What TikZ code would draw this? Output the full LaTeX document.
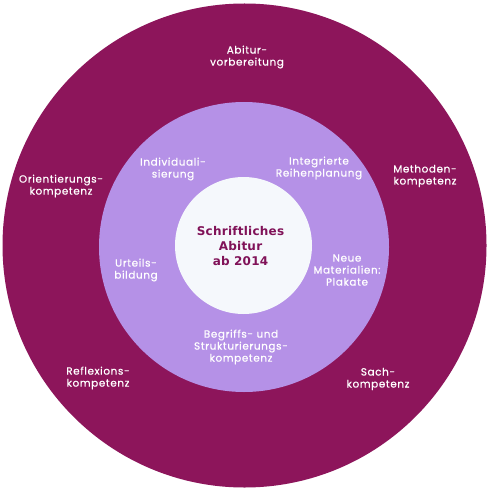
\documentclass[tikz,border=0pt]{standalone}
\usepackage{fontspec}
\setmainfont{Poppins}
\newfontfamily\lblfont[LetterSpace=6,FakeBold=0.6]{Poppins}
\newfontfamily\ctrfont[LetterSpace=2]{DejaVu Sans}
\definecolor{outerc}{RGB}{141,21,91}
\definecolor{midc}{RGB}{181,145,231}
\definecolor{innerc}{RGB}{245,248,252}
\definecolor{ctrtext}{RGB}{128,18,88}
\begin{document}
\begin{tikzpicture}[x=1pt,y=-1pt,
  lbl/.style={text=white,align=center,font=\lblfont\fontsize{10.4}{12}\selectfont,inner sep=0pt},
  ctr/.style={text=ctrtext,align=center,font=\ctrfont\bfseries\fontsize{12}{15}\selectfont,inner sep=0pt}]
\useasboundingbox (0,0) rectangle (489,492);
\fill[white] (0,0) rectangle (489,492);
\node[circle,fill=outerc,minimum size=484pt,inner sep=0pt] (outer) at (244.5,245.5) {};
\node[circle,fill=midc,minimum size=290pt,inner sep=0pt] (mid) at (244,247) {};
\node[circle,fill=innerc,minimum size=137pt,inner sep=0pt] (inner) at (243.5,245.5) {};
\node[ctr] (center) at (240.5,246) {Schriftliches\\Abitur\\ab 2014};
\node[lbl] (abitur) at (247,57) {Abitur-\\vorbereitung};
\node[lbl] (orient) at (61,186) {Orientierungs-\\kompetenz};
\node[lbl] (method) at (425,176) {Methoden-\\kompetenz};
\node[lbl] (indiv) at (173,169) {Individuali-\\sierung};
\node[lbl] (integ) at (319,168) {Integrierte\\Reihenplanung};
\node[lbl] (urteil) at (136,270) {Urteils-\\bildung};
\node[lbl] (neue) at (347,270) {Neue\\Materialien:\\Plakate};
\node[lbl] (begriff) at (241,347) {Begriffs- und\\Strukturierungs-\\kompetenz};
\node[lbl] (reflex) at (98,378) {Reflexions-\\kompetenz};
\node[lbl] (sach) at (378,379) {Sach-\\kompetenz};
\end{tikzpicture}
\end{document}
